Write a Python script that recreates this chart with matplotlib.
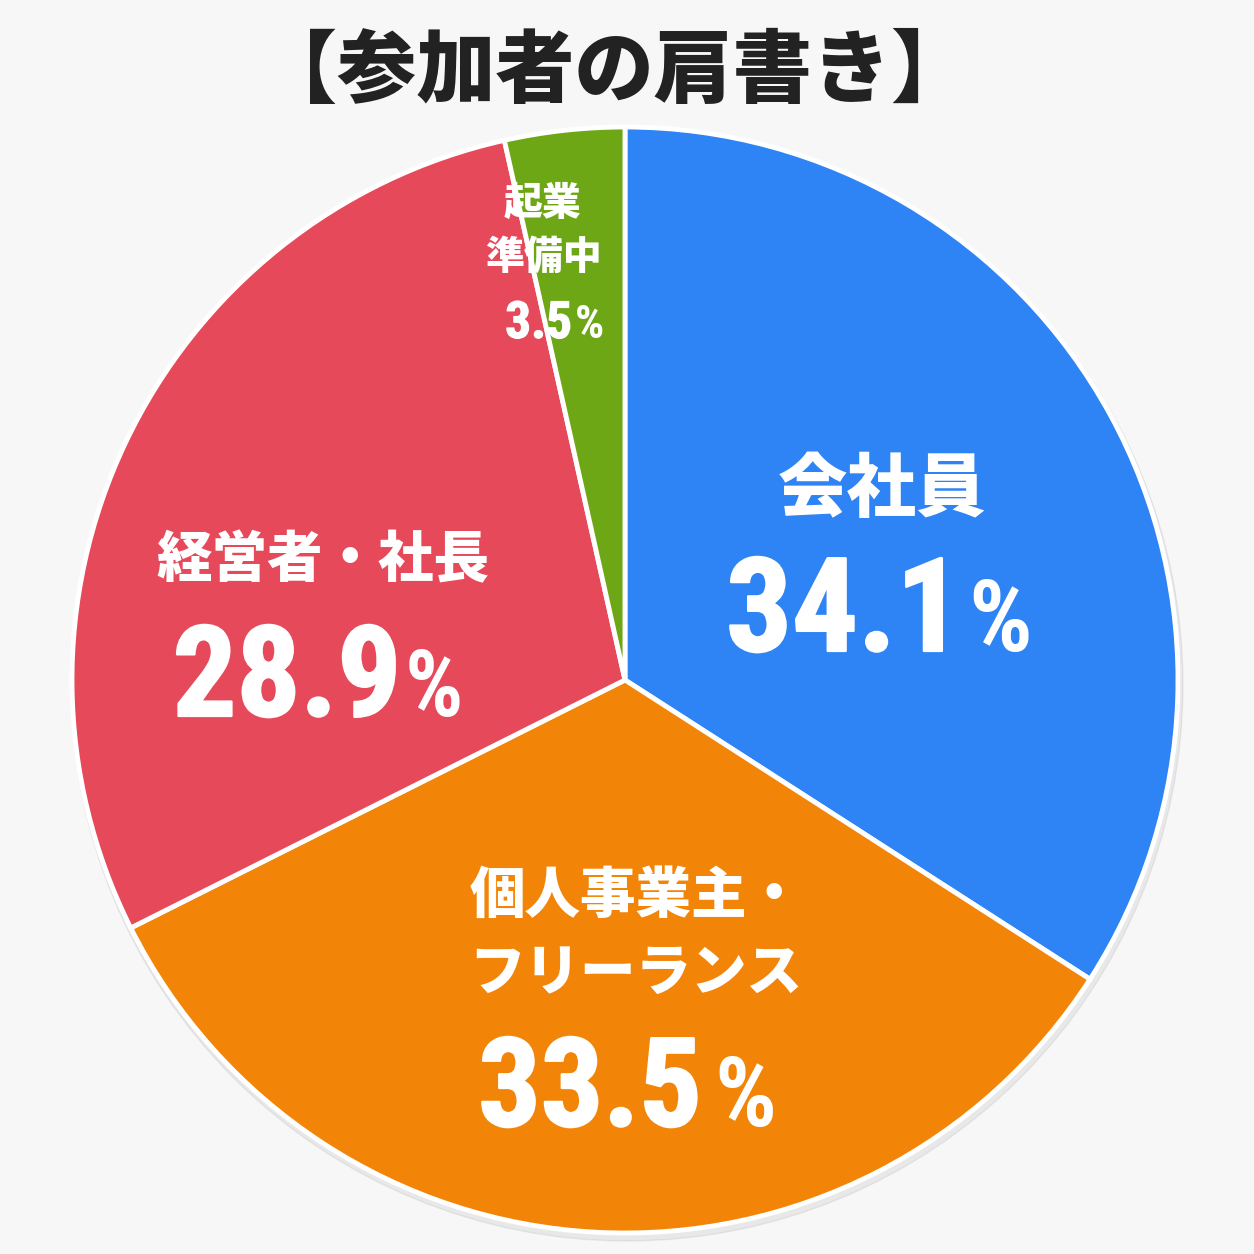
import matplotlib
matplotlib.use("Agg")
import matplotlib.pyplot as plt
import matplotlib.patheffects as pe

# ---- data ----
categories = ["会社員", "個人事業主・\nフリーランス", "経営者・社長", "起業\n準備中"]
values = [34.1, 33.5, 28.9, 3.5]
colors = ["#2E84F4", "#F28507", "#E6495A", "#6EA716"]
title = "【参加者の肩書き】"

NUM_FONT = ["Roboto Condensed", "Liberation Sans", "DejaVu Sans"]
CJK = ["Noto Sans CJK JP", "DejaVu Sans"]

W = H = 1254
fig = plt.figure(figsize=(W / 100, H / 100), dpi=100, facecolor="#F7F7F7")
ax = fig.add_axes([0, 0, 1, 1])

cx, cy, r = 625, H - 680, 553

ax.add_patch(plt.Circle((cx + 2, cy - 5), r + 3, color="#000000", alpha=0.06, zorder=0))

ax.pie(values, colors=colors, startangle=90, counterclock=False,
       center=(cx, cy), radius=r, frame=True,
       wedgeprops=dict(edgecolor="white", linewidth=3.5))
ax.set_xlim(0, W)
ax.set_ylim(0, H)
ax.set_aspect("equal")
ax.axis("off")

def Y(px):
    return H - px

ax.text(614, Y(72), title, ha="center", va="center", fontsize=57,
        family=CJK, weight=900, color="#222222")

cat_pos = [(882, 490, 50), (636, 935, 40), (323, 561, 40), (543, 230, 28)]
for (x, y, fs), lab in zip(cat_pos, categories):
    ax.text(x, Y(y), lab, ha="center", va="center", fontsize=fs,
            family=CJK, weight=900, color="white", linespacing=1.45)

# split x, baseline y, number fontsize, % fontsize, gap, stroke
pct_pos = [(962, 651, 94, 72, 6, 1.6), (702, 1126, 89, 70, 12, 1.6),
           (401, 716, 91, 66, 4, 1.6), (572, 338, 37, 33, 3, 0.8)]
for (x, y, fn, fp, gap, sw), v in zip(pct_pos, values):
    fx = [pe.withStroke(linewidth=sw, foreground="white")]
    ax.text(x, Y(y), f"{v:.1f}", ha="right", va="baseline", fontsize=fn,
            family=NUM_FONT, weight="bold", color="white", path_effects=fx)
    ax.text(x + gap, Y(y), "%", ha="left", va="baseline", fontsize=fp,
            family=NUM_FONT, weight="bold", color="white")

fig.savefig("out.png", dpi=100, facecolor=fig.get_facecolor())
